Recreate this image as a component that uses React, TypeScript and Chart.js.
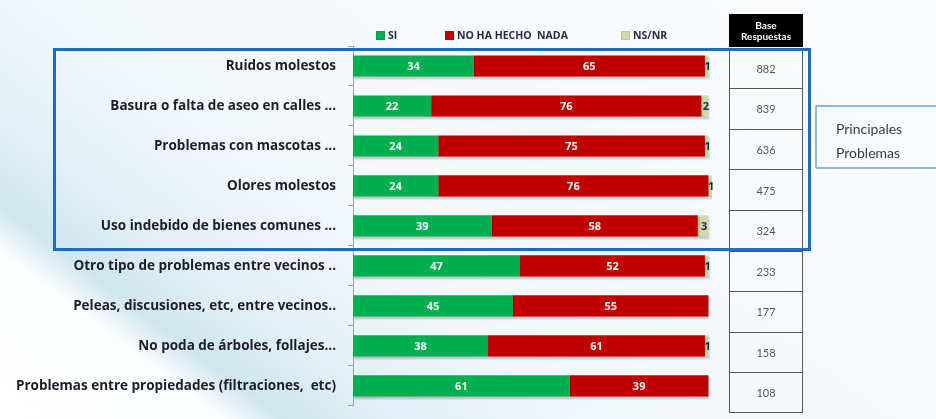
import React, { useEffect, useRef } from "react";
import { Chart, registerables } from "chart.js";

Chart.register(...registerables);

const categories = [
  "Ruidos molestos",
  "Basura o falta de aseo en calles ...",
  "Problemas con mascotas ...",
  "Olores molestos",
  "Uso indebido de bienes comunes ...",
  "Otro tipo de problemas entre vecinos ..",
  "Peleas, discusiones, etc, entre vecinos..",
  "No poda de árboles, follajes...",
  "Problemas entre propiedades (filtraciones,  etc)",
];
const siValues = [34, 22, 24, 24, 39, 47, 45, 38, 61];
const noValues = [65, 76, 75, 76, 58, 52, 55, 61, 39];
const nsValues = [1, 2, 1, 1, 3, 1, 0, 1, 0];
const baseRespuestas = [882, 839, 636, 475, 324, 233, 177, 158, 108];
const seriesNames = ["SI", "NO HA HECHO  NADA", "NS/NR"];
const seriesColors = ["#00b050", "#c00000", "#c9dcaa"];
const tableHeader = ["Base", "Respuestas"];
const boxText = ["Principales", "Problemas"];

const FONT = "Lato, 'Open Sans', sans-serif";
const BOLD_FONT = "'Open Sans', Lato, sans-serif";

const labelPlugin = {
  id: "valueLabels",
  afterDatasetsDraw(chart: any) {
    const ctx = chart.ctx;
    ctx.save();
    ctx.font = `bold 11px ${BOLD_FONT}`;
    ctx.textAlign = "center";
    ctx.textBaseline = "middle";
    chart.data.datasets.forEach((ds: any, di: number) => {
      const meta = chart.getDatasetMeta(di);
      meta.data.forEach((el: any, i: number) => {
        const v = ds.data[i];
        if (!v) return;
        const x = (el.x + el.base) / 2 + (di === 2 ? 1 : 0);
        ctx.fillStyle = di === 2 ? "#1f2a44" : "#ffffff";
        ctx.fillText(String(v), x, el.y + 0.5);
      });
    });
    ctx.restore();
  },
};

const shadowPlugin = {
  id: "barShadow",
  beforeDatasetsDraw(chart: any) {
    const ctx = chart.ctx;
    ctx.save();
    ctx.shadowColor = "rgba(0,0,0,0.22)";
    ctx.shadowOffsetX = 1;
    ctx.shadowOffsetY = 2;
    ctx.shadowBlur = 2;
  },
  afterDatasetsDraw(chart: any) {
    chart.ctx.restore();
  },
};

export default function App() {
  const ref = useRef<HTMLCanvasElement | null>(null);

  useEffect(() => {
    if (!ref.current) return;
    const chart = new Chart(ref.current, {
      type: "bar",
      data: {
        labels: categories,
        datasets: [siValues, noValues, nsValues].map((d, i) => ({
          label: seriesNames[i],
          data: d,
          backgroundColor: seriesColors[i],
          borderWidth: 0,
          categoryPercentage: 1,
          barPercentage: 0.53,
        })),
      },
      options: {
        indexAxis: "y",
        responsive: false,
        animation: false,
        layout: { padding: { top: 46, bottom: 0, right: 224, left: 0 } },
        plugins: { legend: { display: false }, tooltip: { enabled: false } },
        scales: {
          x: { stacked: true, min: 0, max: 101, display: false },
          y: {
            stacked: true,
            afterFit: (scale: any) => {
              scale.width = 353;
            },
            border: { display: true, color: "#a0a0a0", width: 1 },
            grid: { drawOnChartArea: false, drawTicks: true, tickLength: 5, color: "#a0a0a0" },
            ticks: {
              padding: 12,
              color: "#1c1c2a",
              font: { family: BOLD_FONT, size: 13.5, weight: "bold" },
            },
          },
        },
      },
      plugins: [shadowPlugin, labelPlugin],
    } as any);
    return () => chart.destroy();
  }, []);

  const rowTop = 47.5;
  const rowH = 40.6;

  return (
    <div
      style={{
        position: "absolute",
        left: 0,
        top: 0,
        width: 936,
        height: 419,
        overflow: "hidden",
        fontFamily: FONT,
        background:
          "linear-gradient(37deg, #ffffff 0%, #fbfdfe 15%, #cfe6f0 19%, #e3f0f6 27%, #f0f6fa 38%, #f7fafc 60%, #fafcfd 100%)",
      }}
    >
      <canvas ref={ref} width={936} height={426} style={{ position: "absolute", left: 0, top: 0, display: "block" }} />

      {/* legend */}
      {[
        { x: 376 },
        { x: 445 },
        { x: 621 },
      ].map((p, i) => (
        <div
          key={i}
          style={{
            position: "absolute",
            left: p.x,
            top: 29,
            height: 12,
            display: "flex",
            alignItems: "center",
            whiteSpace: "pre",
            fontFamily: BOLD_FONT,
            fontSize: 10.5,
            fontWeight: "bold",
            color: "#1f2a44",
          }}
        >
          <span
            style={{
              display: "inline-block",
              width: 7,
              height: 7,
              background: seriesColors[i],
              border: "1px solid rgba(0,0,0,0.08)",
              marginRight: 3,
            }}
          />
          {seriesNames[i]}
        </div>
      ))}

      {/* table header */}
      <div
        style={{
          position: "absolute",
          left: 729,
          top: 14,
          width: 74,
          height: 33,
          background: "#000",
          color: "#fff",
          fontWeight: "bold",
          fontSize: 10,
          lineHeight: "11px",
          textAlign: "center",
          display: "flex",
          flexDirection: "column",
          justifyContent: "center",
        }}
      >
        <div>{tableHeader[0]}</div>
        <div>{tableHeader[1]}</div>
      </div>

      {/* table cells */}
      {baseRespuestas.map((v, i) => (
        <div
          key={i}
          style={{
            position: "absolute",
            left: 729,
            top: rowTop + i * rowH,
            width: 74,
            height: rowH,
            boxSizing: "border-box",
            borderLeft: "1.5px solid #555",
            borderRight: "1.5px solid #555",
            borderTop: "1.5px solid #555",
            borderBottom: i === baseRespuestas.length - 1 ? "1.5px solid #555" : "none",
            display: "flex",
            alignItems: "center",
            justifyContent: "center",
            fontSize: 11,
            color: "#555",
          }}
        >
          {v}
        </div>
      ))}

      {/* highlight box */}
      <div
        style={{
          position: "absolute",
          left: 53,
          top: 48,
          width: 758,
          height: 203,
          boxSizing: "border-box",
          border: "3px solid #1a6cc4",
        }}
      />

      {/* side box */}
      <div
        style={{
          position: "absolute",
          left: 815,
          top: 105,
          width: 140,
          height: 64,
          boxSizing: "border-box",
          border: "2px solid #8db8e2",
          borderRadius: 2,
        }}
      />
      <div
        style={{
          position: "absolute",
          left: 836,
          top: 117,
          fontSize: 14,
          lineHeight: "24px",
          color: "#3a3a46",
        }}
      >
        <div>{boxText[0]}</div>
        <div>{boxText[1]}</div>
      </div>
    </div>
  );
}
